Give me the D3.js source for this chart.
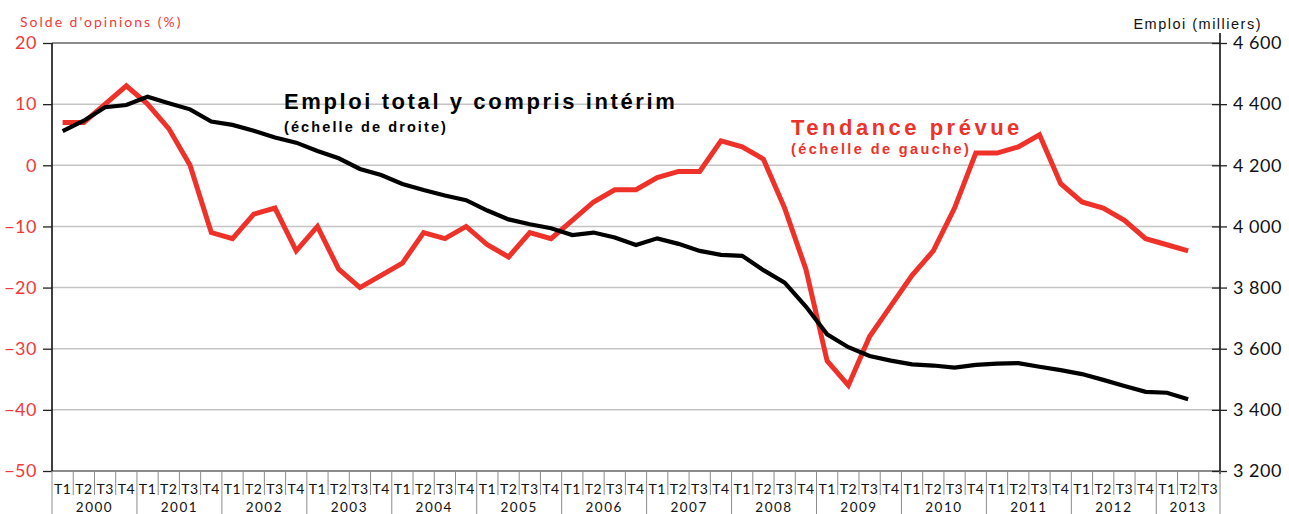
<!DOCTYPE html>
<html>
<head>
<meta charset="utf-8">
<script src="https://cdn.jsdelivr.net/npm/d3@7"></script>
<style>
  body { margin: 0; background: #fff; }
  svg { display: block; }
</style>
</head>
<body>
<div id="chart"></div>
<script>
// --- data ---
const years = ["2000","2001","2002","2003","2004","2005","2006","2007","2008","2009","2010","2011","2012","2013"];
const quarterNames = ["T1","T2","T3","T4"];

// Tendance prévue (solde d'opinions, %), left scale, T1 2000 -> T2 2013
const tendance = [
  7, 7, 10, 13,
  10, 6, 0, -11,
  -12, -8, -7, -14,
  -10, -17, -20, -18,
  -16, -11, -12, -10,
  -13, -15, -11, -12,
  -9, -6, -4, -4,
  -2, -1, -1, 4,
  3, 1, -7, -17,
  -32, -36, -28, -23,
  -18, -14, -7, 2,
  2, 3, 5, -3,
  -6, -7, -9, -12,
  -13, -14
];

// Emploi total y compris intérim (milliers), right scale
const emploi = [
  4312, 4346, 4390, 4397,
  4424, 4403, 4383, 4343,
  4332, 4313, 4291, 4274,
  4247, 4223, 4188, 4168,
  4139, 4119, 4101, 4086,
  4052, 4023, 4007, 3994,
  3972, 3980, 3964, 3939,
  3961, 3943, 3920, 3907,
  3904, 3857, 3816, 3738,
  3647, 3605, 3576, 3561,
  3549, 3545, 3538, 3547,
  3551, 3553, 3541, 3530,
  3517, 3498, 3478, 3459,
  3456, 3435
];

const leftTicks = [20, 10, 0, -10, -20, -30, -40, -50];
const rightTicks = [4600, 4400, 4200, 4000, 3800, 3600, 3400, 3200];

// quarters on the axis: 2000 T1 .. 2013 T3
const quarters = [];
years.forEach(y => {
  quarterNames.forEach(q => {
    if (!(y === "2013" && q === "T4")) quarters.push({ key: y + q, year: y, q: q });
  });
});

// --- layout ---
const width = 1289, height = 514;
const mLeft = 52, mRight = 1220, mTop = 43, mBottom = 471;
const red = "#ee3129";
const redText = "#f03a3a";

const svg = d3.select("#chart").append("svg")
  .attr("width", width).attr("height", height);

const x = d3.scaleBand().domain(quarters.map(d => d.key)).range([mLeft, mRight]).padding(0);
const yL = d3.scaleLinear().domain([-50, 20]).range([mBottom, mTop]);
const yR = d3.scaleLinear().domain([3200, 4600]).range([mBottom, mTop]);
const bw = x.bandwidth();
const cx = i => x(quarters[i].key) + bw / 2;

// gridlines
svg.append("g").selectAll("line")
  .data(leftTicks)
  .join("line")
  .attr("x1", mLeft).attr("x2", mRight)
  .attr("y1", d => yL(d)).attr("y2", d => yL(d))
  .attr("stroke", d => (d === 20 || d === -50) ? "#8c8c8c" : "#c4c4c4")
  .attr("stroke-width", d => (d === 20 || d === -50) ? 2 : 1.5);

// left axis
const fmtL = d3.format("d");
const axL = svg.append("g")
  .attr("transform", `translate(${mLeft},0)`)
  .call(d3.axisLeft(yL).tickValues(leftTicks).tickSize(9).tickPadding(6).tickFormat(fmtL));
axL.select(".domain").attr("stroke", "#000").attr("stroke-width", 1.5).attr("d", `M0,${mTop}V${mBottom}`);
axL.selectAll(".tick line").attr("stroke", "#222").attr("stroke-width", 1.3);
axL.selectAll(".tick text")
  .attr("fill", redText)
  .style("font-family", "Lato, 'Open Sans', sans-serif")
  .style("font-size", "18px")
  .style("letter-spacing", "0.5px");

// right axis
const locale = d3.formatLocale({ decimal: ",", thousands: " ", grouping: [3], currency: ["", " €"] });
const fmtR = locale.format(",d");
const axR = svg.append("g")
  .attr("transform", `translate(${mRight},0)`)
  .call(d3.axisRight(yR).tickValues(rightTicks).tickSize(8).tickPadding(5).tickFormat(fmtR));
axR.select(".domain").attr("stroke", "#000").attr("stroke-width", 1.5).attr("d", `M0,${mTop - 10}V${mBottom + 3}`);
axR.selectAll(".tick line").attr("x1", -8).attr("x2", 7).attr("stroke", "#222").attr("stroke-width", 1.3);
axR.selectAll(".tick text")
  .attr("fill", "#111")
  .style("font-family", "Lato, 'Open Sans', sans-serif")
  .style("font-size", "18px")
  .style("letter-spacing", "0.5px");

// category axis (quarters + years)
const cat = svg.append("g");
cat.selectAll("line.q")
  .data(quarters)
  .join("line")
  .attr("class", "q")
  .attr("x1", d => x(d.key)).attr("x2", d => x(d.key))
  .attr("y1", mBottom).attr("y2", d => d.q === "T1" ? height : mBottom + 24)
  .attr("stroke", "#8c8c8c").attr("stroke-width", 1);
cat.append("line")
  .attr("x1", mRight).attr("x2", mRight)
  .attr("y1", mBottom).attr("y2", height)
  .attr("stroke", "#8c8c8c").attr("stroke-width", 1);
cat.selectAll("text.q")
  .data(quarters)
  .join("text")
  .attr("class", "q")
  .attr("x", d => x(d.key) + bw / 2)
  .attr("y", mBottom + 23)
  .attr("text-anchor", "middle")
  .style("font-family", "Lato, 'Open Sans', sans-serif")
  .style("font-size", "14px")
  .style("letter-spacing", "0.5px")
  .attr("fill", "#111")
  .text(d => d.q);
cat.selectAll("text.y")
  .data(years)
  .join("text")
  .attr("class", "y")
  .attr("x", yr => {
    const qs = quarters.filter(d => d.year === yr);
    return (x(qs[0].key) + x(qs[qs.length - 1].key) + bw) / 2;
  })
  .attr("y", mBottom + 41)
  .attr("text-anchor", "middle")
  .style("font-family", "Lato, 'Open Sans', sans-serif")
  .style("font-size", "13.5px")
  .style("letter-spacing", "1.5px")
  .attr("fill", "#111")
  .text(d => d);

// lines
const lineL = d3.line().x((d, i) => cx(i)).y(d => yL(d));
const lineR = d3.line().x((d, i) => cx(i)).y(d => yR(d));

svg.append("path")
  .datum(tendance)
  .attr("d", lineL)
  .attr("fill", "none")
  .attr("stroke", red)
  .attr("stroke-width", 5)
  .attr("stroke-linejoin", "miter");

svg.append("path")
  .datum(emploi)
  .attr("d", lineR)
  .attr("fill", "none")
  .attr("stroke", "#000")
  .attr("stroke-width", 4.2)
  .attr("stroke-linejoin", "miter");

// axis titles
svg.append("text")
  .attr("x", 20).attr("y", 27)
  .attr("fill", redText)
  .style("font-family", "Lato, 'Open Sans', sans-serif")
  .style("font-size", "14px")
  .style("letter-spacing", "2px")
  .text("Solde d'opinions (%)");

svg.append("text")
  .attr("x", 1262).attr("y", 29)
  .attr("text-anchor", "end")
  .attr("fill", "#111")
  .style("font-family", "'Liberation Sans', Arial, sans-serif")
  .style("font-size", "14.5px")
  .style("letter-spacing", "1.5px")
  .text("Emploi (milliers)");

// series annotations
const note = (xp, yp, txt, size, color, spacing) => svg.append("text")
  .attr("x", xp).attr("y", yp)
  .attr("fill", color)
  .style("font-family", "'Liberation Sans', Arial, sans-serif")
  .style("font-weight", "bold")
  .style("font-size", size + "px")
  .style("letter-spacing", spacing + "px")
  .text(txt);

note(284, 109, "Emploi total y compris intérim", 22, "#000", 2.6);
note(284, 132, "(échelle de droite)", 14.5, "#000", 2.1);
note(791, 135, "Tendance prévue", 22, red, 3.5);
note(791, 154, "(échelle de gauche)", 14.5, red, 2.4);
</script>
</body>
</html>
